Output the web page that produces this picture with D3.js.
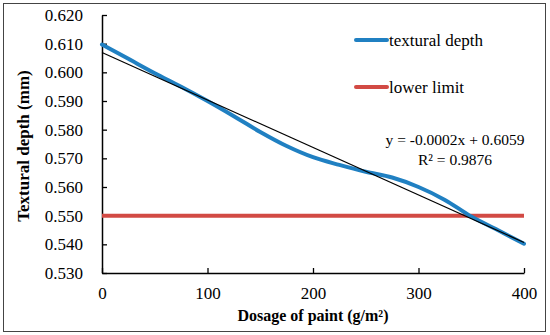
<!DOCTYPE html>
<html>
<head>
<meta charset="utf-8">
<script src="https://cdn.jsdelivr.net/npm/d3@7"></script>
<style>
  body { margin: 0; background: #fff; }
  text { font-family: "Liberation Serif", "DejaVu Serif", serif; fill: #000; }
</style>
</head>
<body>
<svg id="chart"></svg>
<script>
// dosage of paint (g/m2) and measured textural depth (mm)
var dosage = [0, 25, 50, 75, 100, 125, 150, 175, 200, 225, 250, 275, 300, 325, 350, 375, 400];
var depth = [0.6097, 0.6047, 0.5997, 0.5950, 0.5900, 0.5847, 0.5792, 0.5743, 0.5704, 0.5677, 0.5653, 0.5633, 0.5600, 0.5555, 0.5497, 0.5450, 0.5402];
var lowerLimit = 0.550;
var xTicks = [0, 100, 200, 300, 400];
var yTicks = [0.530, 0.540, 0.550, 0.560, 0.570, 0.580, 0.590, 0.600, 0.610, 0.620];
var seriesNames = ["textural depth", "lower limit"];
var equation = ["y = -0.0002x + 0.6059", "R\u00b2 = 0.9876"];

var width = 550, height = 335;
var margin = { top: 15, right: 26, bottom: 62, left: 102 };
var blue = "#2080c2", red = "#d24a44";

var svg = d3.select("#chart").attr("width", width).attr("height", height);

svg.append("rect")
    .attr("x", 3.5).attr("y", 3.5)
    .attr("width", 542).attr("height", 328)
    .attr("fill", "none").attr("stroke", "#444").attr("stroke-width", 1);

var x = d3.scaleLinear().domain([0, 400]).range([margin.left, width - margin.right]);
var y = d3.scaleLinear().domain([0.530, 0.620]).range([height - margin.bottom, margin.top]);

var g = svg.append("g");

// axes, ticks pointing inward
var xAxis = g.append("g")
    .attr("transform", "translate(0," + y(0.530) + ")")
    .call(d3.axisBottom(x).tickValues(xTicks).tickSize(-5).tickPadding(14).tickSizeOuter(0));
var yAxis = g.append("g")
    .attr("transform", "translate(" + x(0) + ",0)")
    .call(d3.axisLeft(y).tickValues(yTicks).tickSize(-5).tickPadding(19).tickFormat(d3.format(".3f")).tickSizeOuter(0));

[xAxis, yAxis].forEach(a => {
    a.select(".domain").attr("stroke", "#000").attr("stroke-width", 1.5);
    a.selectAll(".tick line").attr("stroke", "#000").attr("stroke-width", 1.3);
    a.selectAll("text").attr("font-size", 17).attr("font-family", "Liberation Serif");
});

// lower limit
g.append("line")
    .attr("x1", x(0)).attr("x2", x(400))
    .attr("y1", y(lowerLimit)).attr("y2", y(lowerLimit))
    .attr("stroke", red).attr("stroke-width", 4);

// measured curve
var pts = dosage.map((d, i) => [d, depth[i]]);
g.append("path")
    .datum(pts)
    .attr("fill", "none")
    .attr("stroke", blue)
    .attr("stroke-width", 4)
    .attr("stroke-linecap", "round")
    .attr("d", d3.line().x(d => x(d[0])).y(d => y(d[1])).curve(d3.curveMonotoneX));

// linear trendline from least squares fit
var mx = d3.mean(dosage), my = d3.mean(depth);
var slope = d3.sum(pts, d => (d[0] - mx) * (d[1] - my)) / d3.sum(dosage, d => (d - mx) * (d - mx));
var icpt = my - slope * mx;
g.append("line")
    .attr("x1", x(0)).attr("y1", y(icpt))
    .attr("x2", x(400)).attr("y2", y(icpt + slope * 400))
    .attr("stroke", "#000").attr("stroke-width", 1.2);

// legend
var legend = svg.append("g");
[blue, red].forEach((c, i) => {
    var ly = 40 + i * 47;
    legend.append("line")
        .attr("x1", 356).attr("x2", 387).attr("y1", ly).attr("y2", ly)
        .attr("stroke", c).attr("stroke-width", 4).attr("stroke-linecap", "round");
    legend.append("text")
        .attr("x", 389).attr("y", ly + 5.5)
        .attr("font-size", 17)
        .text(seriesNames[i]);
});

// equation
equation.forEach((t, i) => {
    svg.append("text")
        .attr("x", 455).attr("y", 145 + i * 20)
        .attr("text-anchor", "middle")
        .attr("font-size", 15.5)
        .text(t);
});

// axis titles
svg.append("text")
    .attr("x", x(200)).attr("y", 321)
    .attr("text-anchor", "middle")
    .attr("font-size", 16)
    .attr("font-weight", "bold")
    .text("Dosage of paint (g/m\u00b2)");

svg.append("text")
    .attr("transform", "translate(29,146) rotate(-90)")
    .attr("text-anchor", "middle")
    .attr("font-size", 17)
    .attr("font-weight", "bold")
    .text("Textural depth (mm)");
</script>
</body>
</html>
